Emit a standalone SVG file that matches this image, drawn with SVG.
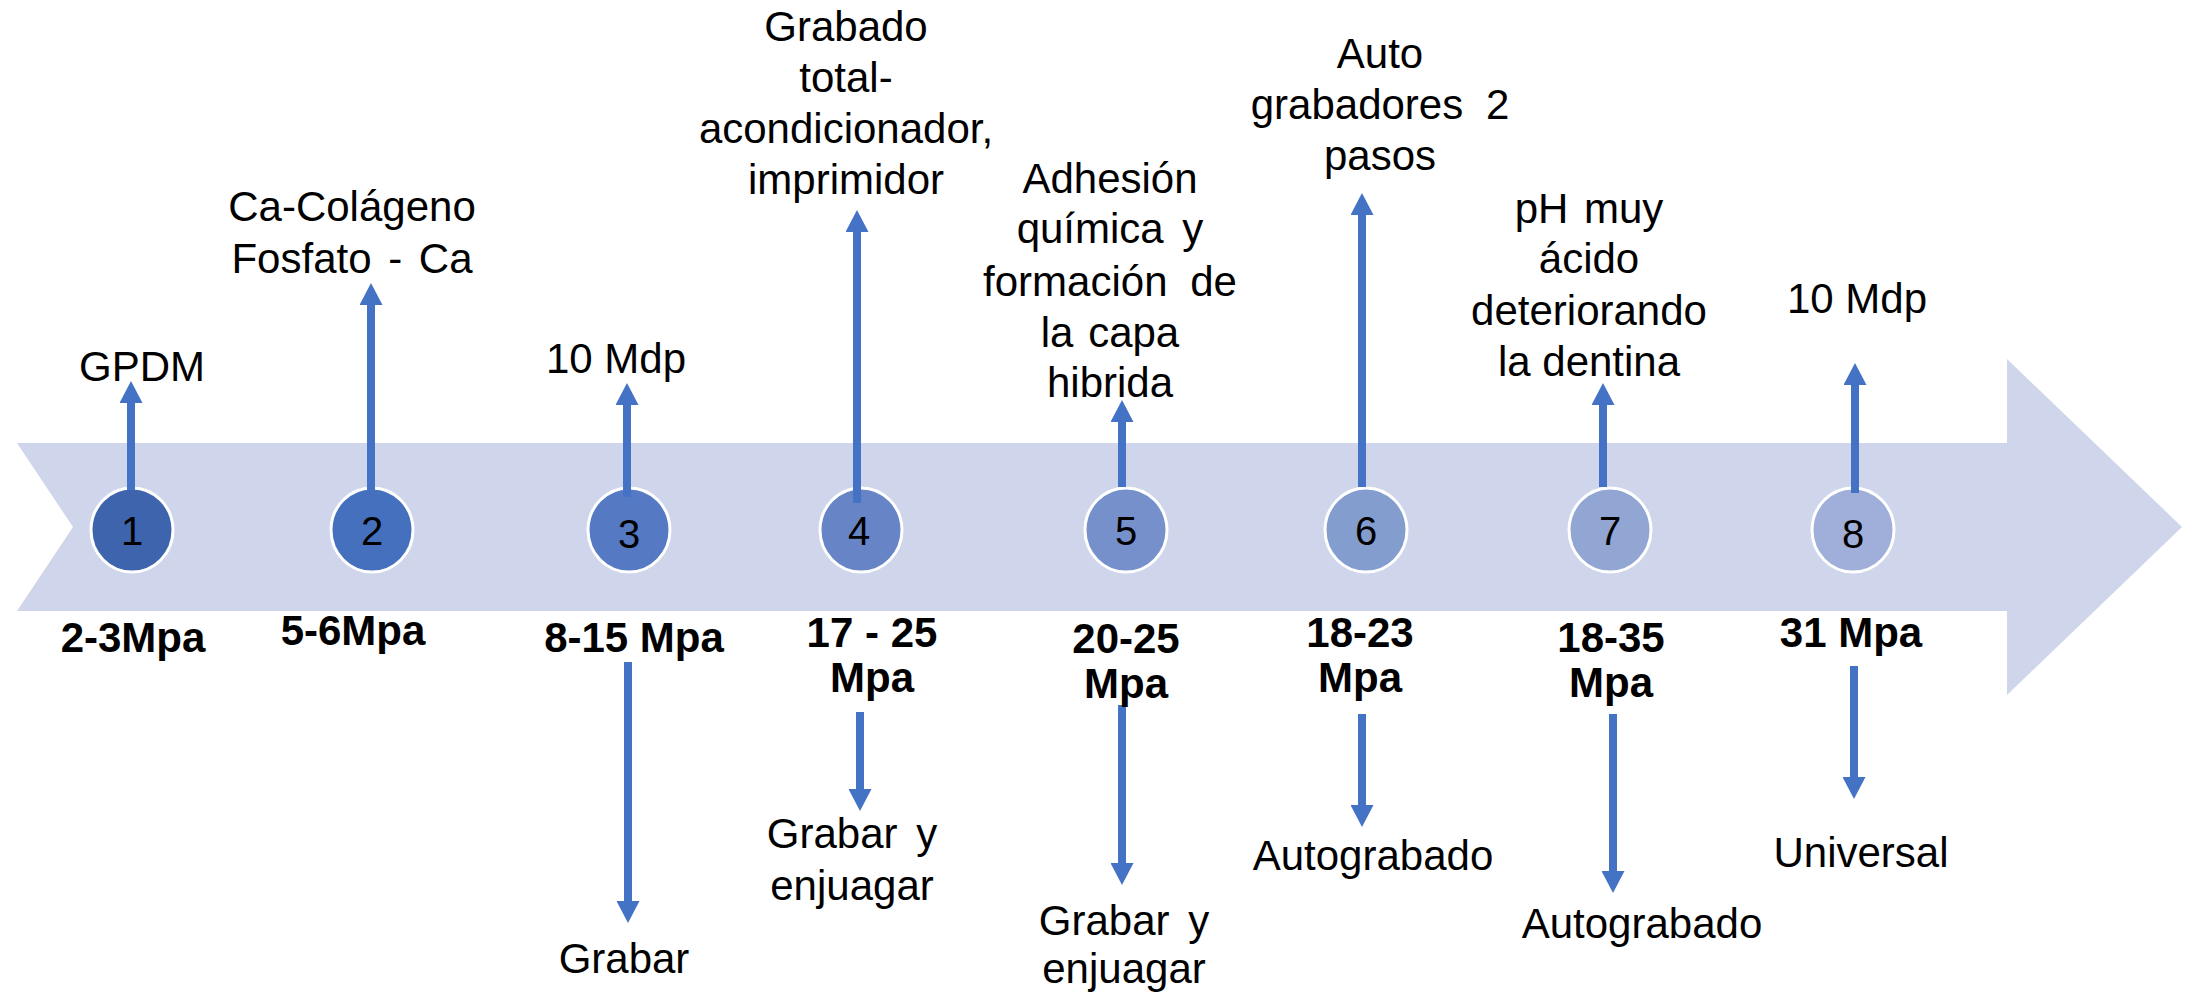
<svg xmlns="http://www.w3.org/2000/svg" width="2186" height="998" viewBox="0 0 2186 998">
<style>
.t{font-family:"Liberation Sans",Arial,sans-serif;font-size:42px;fill:#000;text-anchor:middle}
.b{font-family:"Liberation Sans",Arial,sans-serif;font-size:42px;font-weight:bold;fill:#000;text-anchor:middle}
.n{font-family:"Liberation Sans",Arial,sans-serif;font-size:40px;fill:#000;text-anchor:middle}
.c{stroke:#fff;stroke-width:3}
.a{stroke:#4472C4;stroke-width:8;fill:none;marker-end:url(#ah)}
</style>
<defs>
<marker id="ah" viewBox="0 0 22 23" refX="2" refY="11.5" markerWidth="22" markerHeight="23" markerUnits="userSpaceOnUse" orient="auto">
<path d="M0,0 L22,11.5 L0,23 z" fill="#4472C4"/>
</marker>
</defs>
<rect width="2186" height="998" fill="#fff"/>
<polygon id="band" points="17,443 2007,443 2007,359 2182,527 2007,695 2007,611 17,611 73,527" fill="#CFD5EA"/>

<g id="n1"><ellipse class="c" cx="132" cy="530" rx="41" ry="42" fill="#3E64AE"/><text class="n" x="132" y="545">1</text></g>
<g id="n2"><ellipse class="c" cx="372" cy="530" rx="41" ry="42" fill="#4570BE"/><text class="n" x="372" y="545">2</text></g>
<g id="n3"><ellipse class="c" cx="629" cy="530" rx="41" ry="42" fill="#5579C3"/><text class="n" x="629" y="548">3</text></g>
<g id="n4"><ellipse class="c" cx="861" cy="530" rx="41" ry="42" fill="#6684C6"/><text class="n" x="859" y="545">4</text></g>
<g id="n5"><ellipse class="c" cx="1126" cy="530" rx="41" ry="42" fill="#7590CA"/><text class="n" x="1126" y="545">5</text></g>
<g id="n6"><ellipse class="c" cx="1366" cy="530" rx="41" ry="42" fill="#849DCF"/><text class="n" x="1366" y="545">6</text></g>
<g id="n7"><ellipse class="c" cx="1610" cy="530" rx="41" ry="42" fill="#92A6D4"/><text class="n" x="1610" y="545">7</text></g>
<g id="n8"><ellipse class="c" cx="1853" cy="530" rx="41" ry="42" fill="#A0AFD9"/><text class="n" x="1853" y="548">8</text></g>

<g id="connectors">
<line class="a" x1="131" y1="490" x2="131" y2="401"/>
<line class="a" x1="371" y1="490" x2="371" y2="303"/>
<line class="a" x1="627" y1="497" x2="627" y2="403"/>
<line class="a" x1="857" y1="503" x2="857" y2="230"/>
<line class="a" x1="1122" y1="487" x2="1122" y2="420"/>
<line class="a" x1="1362" y1="487" x2="1362" y2="213"/>
<line class="a" x1="1603" y1="487" x2="1603" y2="403"/>
<line class="a" x1="1855" y1="493" x2="1855" y2="383"/>
<line class="a" x1="628" y1="662" x2="628" y2="903"/>
<line class="a" x1="860" y1="712" x2="860" y2="791"/>
<line class="a" x1="1122" y1="705" x2="1122" y2="865"/>
<line class="a" x1="1362" y1="714" x2="1362" y2="807"/>
<line class="a" x1="1613" y1="714" x2="1613" y2="873"/>
<line class="a" x1="1854" y1="666" x2="1854" y2="779"/>
</g>

<g id="top-labels">
<text class="t" x="142" y="381">GPDM</text>
<text class="t" x="352" y="221">Ca-Colágeno</text>
<text class="t" x="352" y="273" word-spacing="5">Fosfato - Ca</text>
<text class="t" x="616" y="373">10 Mdp</text>
<text class="t" x="846" y="41">Grabado</text>
<text class="t" x="846" y="92">total-</text>
<text class="t" x="846" y="143">acondicionador,</text>
<text class="t" x="846" y="194">imprimidor</text>
<text class="t" x="1110" y="193">Adhesión</text>
<text class="t" x="1110" y="243" word-spacing="7">química y</text>
<text class="t" x="1110" y="296" word-spacing="11">formación de</text>
<text class="t" x="1110" y="347" word-spacing="3">la capa</text>
<text class="t" x="1110" y="397">hibrida</text>
<text class="t" x="1380" y="68">Auto</text>
<text class="t" x="1380" y="119" word-spacing="11">grabadores 2</text>
<text class="t" x="1380" y="170">pasos</text>
<text class="t" x="1589" y="223" word-spacing="4">pH muy</text>
<text class="t" x="1589" y="273">ácido</text>
<text class="t" x="1589" y="325">deteriorando</text>
<text class="t" x="1589" y="376">la dentina</text>
<text class="t" x="1857" y="313">10 Mdp</text>
</g>

<g id="values">
<text class="b" x="133" y="652">2-3Mpa</text>
<text class="b" x="353" y="645">5-6Mpa</text>
<text class="b" x="634" y="652">8-15 Mpa</text>
<text class="b" x="872" y="647">17 - 25</text>
<text class="b" x="872" y="692">Mpa</text>
<text class="b" x="1126" y="653">20-25</text>
<text class="b" x="1126" y="698">Mpa</text>
<text class="b" x="1360" y="647">18-23</text>
<text class="b" x="1360" y="692">Mpa</text>
<text class="b" x="1611" y="652">18-35</text>
<text class="b" x="1611" y="697">Mpa</text>
<text class="b" x="1851" y="647">31 Mpa</text>
</g>

<g id="bottom-labels">
<text class="t" x="624" y="973">Grabar</text>
<text class="t" x="852" y="848" word-spacing="7">Grabar y</text>
<text class="t" x="852" y="900">enjuagar</text>
<text class="t" x="1124" y="935" word-spacing="7">Grabar y</text>
<text class="t" x="1124" y="983">enjuagar</text>
<text class="t" x="1373" y="870">Autograbado</text>
<text class="t" x="1642" y="938">Autograbado</text>
<text class="t" x="1861" y="867">Universal</text>
</g>
</svg>
